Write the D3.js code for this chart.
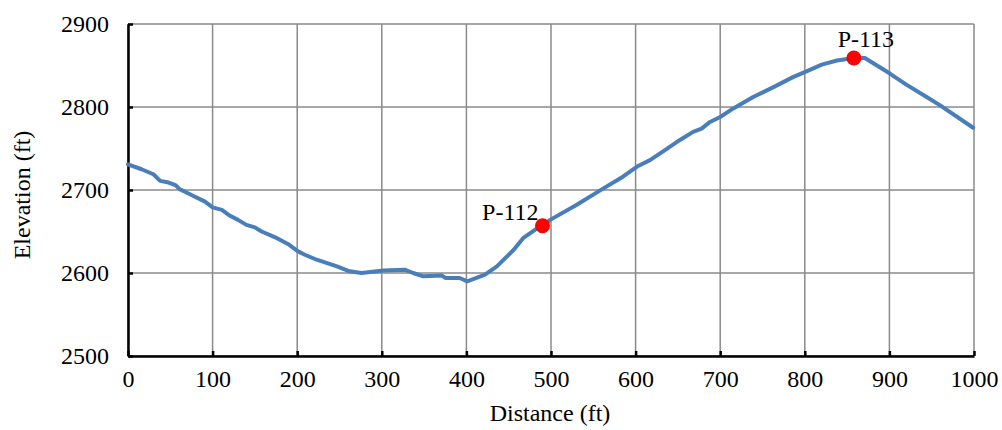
<!DOCTYPE html>
<html><head><meta charset="utf-8">
<script src="https://cdn.jsdelivr.net/npm/d3@7"></script>
<style>body{margin:0;background:#fff}svg{display:block}text{font-family:"Liberation Serif","Times New Roman",serif;fill:#000}</style>
</head><body><svg id="c" width="1002" height="430"></svg>
<script>
const distance = [0,16,30,38,48,56,61,75,91,100,111,119,130,140,150,158,174,189,201,209,223,247,262,276,302,327,337,349,371,375,392,401,422,436,456,467,481,490,499,530,562,585,603,617,636,652,668,678,688,700,715,739,763,786,802,820,838,858,871,901,920,944,960,999];
const elevation = [2731,2725,2719,2711,2709,2706,2701,2694,2686,2679,2676,2670,2664,2658,2655,2650,2643,2635,2626,2622,2616,2608,2602,2600,2603,2604,2600,2596,2597,2594,2594,2590,2598,2608,2628,2642,2652,2657,2664,2682,2702,2716,2729,2736,2749,2760,2770,2774,2782,2788,2798,2812,2824,2836,2843,2851,2856,2859,2859,2840,2827,2812,2802,2775];
const pointNames = ["P-112","P-113"];
const pointDistance = [490,858];
const pointElevation = [2657,2859];
const xTicks = [0,100,200,300,400,500,600,700,800,900,1000];
const yTicks = [2500,2600,2700,2800,2900];

const svg = d3.select("#c");
const x = d3.scaleLinear().domain([0,1000]).range([128,974]);
const y = d3.scaleLinear().domain([2500,2900]).range([356,24]);
const FS = 24;

// grid
svg.append("g").selectAll("line").data(xTicks).join("line")
  .attr("x1",d=>x(d)).attr("x2",d=>x(d)).attr("y1",y(2500)).attr("y2",y(2900))
  .attr("stroke","#8a8a8a").attr("stroke-width",1.5);
svg.append("g").selectAll("line").data(yTicks).join("line")
  .attr("x1",x(0)).attr("x2",x(1000)).attr("y1",d=>y(d)).attr("y2",d=>y(d))
  .attr("stroke","#8a8a8a").attr("stroke-width",1.5);

// axes
const xAxis = svg.append("g").attr("transform",`translate(0,${y(2500)})`)
  .call(d3.axisBottom(x).tickValues(xTicks).tickSizeInner(-5).tickSizeOuter(0).tickPadding(14).tickFormat(d3.format("d")));
const yAxis = svg.append("g").attr("transform",`translate(${x(0)},0)`)
  .call(d3.axisLeft(y).tickValues(yTicks).tickSizeInner(-5).tickSizeOuter(0).tickPadding(19).tickFormat(d3.format("d")));
[xAxis,yAxis].forEach(a=>{
  a.select(".domain").attr("stroke","#000").attr("stroke-width",2.5);
  a.selectAll(".tick line").attr("stroke","#000").attr("stroke-width",2.5);
  a.selectAll(".tick text").attr("font-size",FS).attr("font-family","Liberation Serif").attr("fill","#000");
});
xAxis.selectAll(".tick text").attr("dy","0.71em");

// line
svg.append("path").datum(distance.map((d,i)=>[d,elevation[i]]))
  .attr("d",d3.line().x(d=>x(d[0])).y(d=>y(d[1])))
  .attr("fill","none").attr("stroke","#4a7ebb").attr("stroke-width",4)
  .attr("stroke-linejoin","round").attr("stroke-linecap","round");

// points
const pts = pointNames.map((n,i)=>({n,d:pointDistance[i],e:pointElevation[i]}));
svg.append("g").selectAll("circle").data(pts).join("circle")
  .attr("cx",p=>x(p.d)).attr("cy",p=>y(p.e)).attr("r",7.5).attr("fill","#ff0000");
svg.append("text").attr("x",x(pts[0].d)-4).attr("y",y(pts[0].e)-6)
  .attr("text-anchor","end").attr("font-size",FS).text(pts[0].n);
svg.append("text").attr("x",x(pts[1].d)+12).attr("y",y(pts[1].e)-11)
  .attr("text-anchor","middle").attr("font-size",FS).text(pts[1].n);

// titles
svg.append("text").attr("x",550).attr("y",421).attr("text-anchor","middle").attr("font-size",FS).text("Distance (ft)");
svg.append("text").attr("transform","translate(30,195) rotate(-90)").attr("text-anchor","middle").attr("font-size",FS).text("Elevation (ft)");
</script></body></html>
